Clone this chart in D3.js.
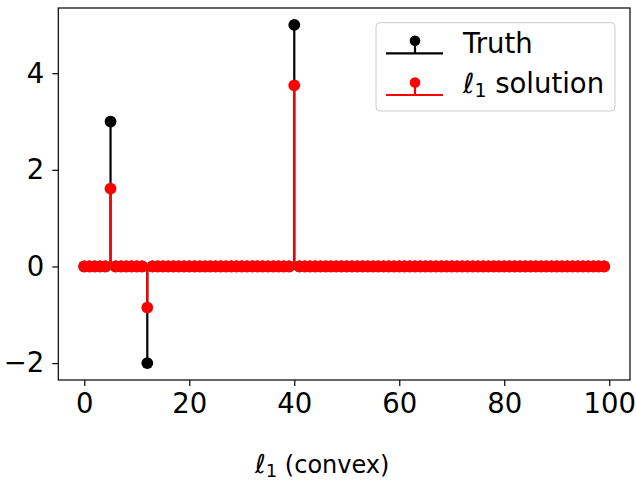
<!DOCTYPE html>
<html lang="en">
<head>
<meta charset="UTF-8" />
<title>l1 stem</title>
<script src="https://d3js.org/d3.v7.min.js"></script>
<style>
body { margin: 0; background: #fff; }
svg { font-family: "DejaVu Sans", sans-serif; }
.axis path, .axis line { stroke: #000; }
</style>
</head>
<body>
<script>

// signal values, index 0..99
var truth = [
  0, 0, 0, 0, 0, 3, 0, 0, 0, 0,
  0, 0, -2, 0, 0, 0, 0, 0, 0, 0,
  0, 0, 0, 0, 0, 0, 0, 0, 0, 0,
  0, 0, 0, 0, 0, 0, 0, 0, 0, 0,
  5, 0, 0, 0, 0, 0, 0, 0, 0, 0,
  0, 0, 0, 0, 0, 0, 0, 0, 0, 0,
  0, 0, 0, 0, 0, 0, 0, 0, 0, 0,
  0, 0, 0, 0, 0, 0, 0, 0, 0, 0,
  0, 0, 0, 0, 0, 0, 0, 0, 0, 0,
  0, 0, 0, 0, 0, 0, 0, 0, 0, 0
];
var l1sol = [
  0, 0, 0, 0, 0, 1.61, 0, 0, 0, 0,
  0, 0, -0.85, 0, 0, 0, 0, 0, 0, 0,
  0, 0, 0, 0, 0, 0, 0, 0, 0, 0,
  0, 0, 0, 0, 0, 0, 0, 0, 0, 0,
  3.75, 0, 0, 0, 0, 0, 0, 0, 0, 0,
  0, 0, 0, 0, 0, 0, 0, 0, 0, 0,
  0, 0, 0, 0, 0, 0, 0, 0, 0, 0,
  0, 0, 0, 0, 0, 0, 0, 0, 0, 0,
  0, 0, 0, 0, 0, 0, 0, 0, 0, 0,
  0, 0, 0, 0, 0, 0, 0, 0, 0, 0
];
var xTicks = [0, 20, 40, 60, 80, 100];
var yTicks = [-2, 0, 2, 4];

var width = 636, height = 484;
var pLeft = 58.3, pRight = 630, pTop = 8, pBottom = 380;
var r = 5.9;
var fs = 27.5;

var svg = d3.select("body").append("svg")
  .attr("width", width)
  .attr("height", height);

var x = d3.scaleLinear().domain([-4.95, 103.95]).range([pLeft, pRight]);
var y = d3.scaleLinear().domain([-2.35, 5.35]).range([pBottom, pTop]);

function stem(vals, color) {
  var g = svg.append("g");
  g.selectAll("line.s")
    .data(vals)
    .enter().append("line")
    .attr("x1", function(d, i) { return x(i); })
    .attr("x2", function(d, i) { return x(i); })
    .attr("y1", y(0))
    .attr("y2", function(d) { return y(d); })
    .attr("stroke", color)
    .attr("stroke-width", 2.2);
  g.selectAll("circle")
    .data(vals)
    .enter().append("circle")
    .attr("cx", function(d, i) { return x(i); })
    .attr("cy", function(d) { return y(d); })
    .attr("r", r)
    .attr("fill", color);
  g.append("line")
    .attr("x1", x(0))
    .attr("x2", x(vals.length - 1))
    .attr("y1", y(0))
    .attr("y2", y(0))
    .attr("stroke", color)
    .attr("stroke-width", 2.2);
}

stem(truth, "black");
stem(l1sol, "red");

// frame
svg.append("rect")
  .attr("x", pLeft).attr("y", pTop)
  .attr("width", pRight - pLeft).attr("height", pBottom - pTop)
  .attr("fill", "none").attr("stroke", "#000").attr("stroke-width", 1.2);

svg.append("g")
  .attr("class", "axis")
  .attr("transform", "translate(0," + pBottom + ")")
  .call(d3.axisBottom(x).tickValues(xTicks).tickSize(6).tickPadding(7.5).tickSizeOuter(0))
  .call(function(g) { g.select(".domain").remove(); })
  .selectAll("text").attr("font-size", fs).attr("font-family", "DejaVu Sans").attr("fill", "#000");

svg.append("g")
  .attr("class", "axis")
  .attr("transform", "translate(" + pLeft + ",0)")
  .call(d3.axisLeft(y).tickValues(yTicks).tickSize(6).tickPadding(8).tickSizeOuter(0)
    .tickFormat(function(d) { return d < 0 ? "\u2212" + Math.abs(d) : d; }))
  .call(function(g) { g.select(".domain").remove(); })
  .selectAll("text").attr("font-size", fs).attr("font-family", "DejaVu Sans").attr("fill", "#000");

svg.selectAll(".axis line").attr("stroke-width", 1.2);

// x label
var xl = svg.append("text")
  .attr("x", 255).attr("y", 473)
  .attr("font-size", 24);
xl.append("tspan").attr("font-style", "italic").attr("font-size", 26).text("\u2113");
xl.append("tspan").attr("font-size", 18).attr("dy", 4).text("1");
xl.append("tspan").attr("dy", -4).text(" (convex)");

// legend
var leg = svg.append("g");
leg.append("rect")
  .attr("x", 376).attr("y", 22.7)
  .attr("width", 239).attr("height", 88.3)
  .attr("rx", 4)
  .attr("fill", "white").attr("fill-opacity", 0.8)
  .attr("stroke", "#ccc").attr("stroke-width", 1);

var legColors = ["black", "red"];
legColors.forEach(function(c, i) {
  var by = 53.3 + i * 41.7;
  leg.append("line").attr("x1", 386).attr("x2", 443).attr("y1", by).attr("y2", by)
    .attr("stroke", c).attr("stroke-width", 2.2);
  leg.append("line").attr("x1", 415).attr("x2", 415).attr("y1", by).attr("y2", by - 12)
    .attr("stroke", c).attr("stroke-width", 2.2);
  leg.append("circle").attr("cx", 415).attr("cy", by - 12.5).attr("r", 5.3).attr("fill", c);
});

leg.append("text").attr("x", 463).attr("y", 53.3).attr("font-size", fs).text("Truth");
var lt = leg.append("text").attr("x", 463).attr("y", 93.3).attr("font-size", fs);
lt.append("tspan").attr("font-style", "italic").text("\u2113");
lt.append("tspan").attr("font-size", 19).attr("dy", 4).text("1");
lt.append("tspan").attr("dy", -4).text(" solution");

</script>
</body>
</html>
